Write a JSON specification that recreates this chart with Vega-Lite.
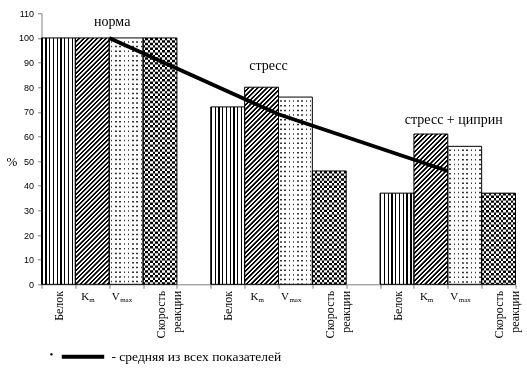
{
  "$schema": "https://vega.github.io/schema/vega-lite/v6.json",
  "autosize": {"type": "none"},
  "padding": {"left": 41.5, "top": 13.3, "right": 11.5, "bottom": 97.7},
  "width": 474,
  "height": 271,
  "background": "white",
  "config": {"view": {"stroke": null}},
  "data": {"values": [
    {"cat": "b1", "type": "b", "group": "норма", "value": 100},
    {"cat": "k1", "type": "k", "group": "норма", "value": 100},
    {"cat": "v1", "type": "v", "group": "норма", "value": 100},
    {"cat": "s1", "type": "s", "group": "норма", "value": 100},
    {"cat": "b2", "type": "b", "group": "стресс", "value": 72},
    {"cat": "k2", "type": "k", "group": "стресс", "value": 80},
    {"cat": "v2", "type": "v", "group": "стресс", "value": 76},
    {"cat": "s2", "type": "s", "group": "стресс", "value": 46},
    {"cat": "b3", "type": "b", "group": "стресс + циприн", "value": 37},
    {"cat": "k3", "type": "k", "group": "стресс + циприн", "value": 61},
    {"cat": "v3", "type": "v", "group": "стресс + циприн", "value": 56},
    {"cat": "s3", "type": "s", "group": "стресс + циприн", "value": 37}
  ]},
  "encoding": {
    "x": {"field": "cat", "type": "nominal", "title": null,
      "scale": {"domain": ["b1","k1","v1","s1","g1","b2","k2","v2","s2","g2","b3","k3","v3","s3"], "paddingInner": 0, "paddingOuter": 0},
      "axis": {"tickBand": "extent", "tickSize": 4, "labelAngle": -90, "labelPadding": 2,
        "labelFont": "Liberation Serif", "labelFontSize": 12, "labelLineHeight": 16, "labelColor": "#000",
        "domainColor": "#808080", "tickColor": "#808080", "grid": false,
        "labelExpr": "substring(datum.value,0,1)=='b' ? 'Белок' : (substring(datum.value,0,1)=='s' ? ['Скорость','реакции'] : '')"}},
    "y": {"field": "value", "type": "quantitative", "scale": {"domain": [0, 110], "nice": false},
      "axis": {"values": [0,10,20,30,40,50,60,70,80,90,100,110], "tickSize": 4, "labelPadding": 4,
        "labelFont": "Liberation Sans", "labelFontSize": 9, "labelColor": "#000",
        "domainColor": "#808080", "tickColor": "#808080", "grid": false,
        "title": "%", "titleAngle": 0, "titleX": -30, "titleY": 148, "titleFont": "Liberation Serif",
        "titleFontSize": 13, "titleFontWeight": "normal", "titleAlign": "center", "titleBaseline": "middle", "titleColor": "#000"}}
  },
  "layer": [
    {"transform": [{"filter": "datum.type=='b'"}],
     "mark": {"type": "bar", "stroke": null, "fill": {"gradient": "linear", "x1": 0, "y1": 0, "x2": 1, "y2": 0, "stops": [
       {"offset":0,"color":"#000"},{"offset":0.04,"color":"#000"},{"offset":0.04,"color":"#fff"},{"offset":0.1111,"color":"#fff"},
       {"offset":0.1111,"color":"#000"},{"offset":0.1511,"color":"#000"},{"offset":0.1511,"color":"#fff"},{"offset":0.2222,"color":"#fff"},
       {"offset":0.2222,"color":"#000"},{"offset":0.2622,"color":"#000"},{"offset":0.2622,"color":"#fff"},{"offset":0.3333,"color":"#fff"},
       {"offset":0.3333,"color":"#000"},{"offset":0.3733,"color":"#000"},{"offset":0.3733,"color":"#fff"},{"offset":0.4444,"color":"#fff"},
       {"offset":0.4444,"color":"#000"},{"offset":0.4844,"color":"#000"},{"offset":0.4844,"color":"#fff"},{"offset":0.5556,"color":"#fff"},
       {"offset":0.5556,"color":"#000"},{"offset":0.5956,"color":"#000"},{"offset":0.5956,"color":"#fff"},{"offset":0.6667,"color":"#fff"},
       {"offset":0.6667,"color":"#000"},{"offset":0.7067,"color":"#000"},{"offset":0.7067,"color":"#fff"},{"offset":0.7778,"color":"#fff"},
       {"offset":0.7778,"color":"#000"},{"offset":0.8178,"color":"#000"},{"offset":0.8178,"color":"#fff"},{"offset":0.8889,"color":"#fff"},
       {"offset":0.8889,"color":"#000"},{"offset":0.9289,"color":"#000"},{"offset":0.9289,"color":"#fff"},{"offset":1,"color":"#fff"}
     ]}}},
    {"transform": [{"filter": "datum.cat=='k1'"}],
     "mark": {"type": "bar", "stroke": null, "fill": {"gradient": "linear", "x1": 0, "y1": 0, "x2": 0.15346, "y2": 1.11668, "stops": [
       {"offset":0,"color":"#000"},{"offset":0.008,"color":"#fff"},{"offset":0.016,"color":"#000"},{"offset":0.024,"color":"#fff"},
       {"offset":0.032,"color":"#000"},{"offset":0.04,"color":"#fff"},{"offset":0.048,"color":"#000"},{"offset":0.056,"color":"#fff"},
       {"offset":0.064,"color":"#000"},{"offset":0.072,"color":"#fff"},{"offset":0.08,"color":"#000"},{"offset":0.088,"color":"#fff"},
       {"offset":0.096,"color":"#000"},{"offset":0.104,"color":"#fff"},{"offset":0.112,"color":"#000"},{"offset":0.12,"color":"#fff"},
       {"offset":0.128,"color":"#000"},{"offset":0.136,"color":"#fff"},{"offset":0.144,"color":"#000"},{"offset":0.152,"color":"#fff"},
       {"offset":0.16,"color":"#000"},{"offset":0.168,"color":"#fff"},{"offset":0.176,"color":"#000"},{"offset":0.184,"color":"#fff"},
       {"offset":0.192,"color":"#000"},{"offset":0.2,"color":"#fff"},{"offset":0.208,"color":"#000"},{"offset":0.216,"color":"#fff"},
       {"offset":0.224,"color":"#000"},{"offset":0.232,"color":"#fff"},{"offset":0.24,"color":"#000"},{"offset":0.248,"color":"#fff"},
       {"offset":0.256,"color":"#000"},{"offset":0.264,"color":"#fff"},{"offset":0.272,"color":"#000"},{"offset":0.28,"color":"#fff"},
       {"offset":0.288,"color":"#000"},{"offset":0.296,"color":"#fff"},{"offset":0.304,"color":"#000"},{"offset":0.312,"color":"#fff"},
       {"offset":0.32,"color":"#000"},{"offset":0.328,"color":"#fff"},{"offset":0.336,"color":"#000"},{"offset":0.344,"color":"#fff"},
       {"offset":0.352,"color":"#000"},{"offset":0.36,"color":"#fff"},{"offset":0.368,"color":"#000"},{"offset":0.376,"color":"#fff"},
       {"offset":0.384,"color":"#000"},{"offset":0.392,"color":"#fff"},{"offset":0.4,"color":"#000"},{"offset":0.408,"color":"#fff"},
       {"offset":0.416,"color":"#000"},{"offset":0.424,"color":"#fff"},{"offset":0.432,"color":"#000"},{"offset":0.44,"color":"#fff"},
       {"offset":0.448,"color":"#000"},{"offset":0.456,"color":"#fff"},{"offset":0.464,"color":"#000"},{"offset":0.472,"color":"#fff"},
       {"offset":0.48,"color":"#000"},{"offset":0.488,"color":"#fff"},{"offset":0.496,"color":"#000"},{"offset":0.504,"color":"#fff"},
       {"offset":0.512,"color":"#000"},{"offset":0.52,"color":"#fff"},{"offset":0.528,"color":"#000"},{"offset":0.536,"color":"#fff"},
       {"offset":0.544,"color":"#000"},{"offset":0.552,"color":"#fff"},{"offset":0.56,"color":"#000"},{"offset":0.568,"color":"#fff"},
       {"offset":0.576,"color":"#000"},{"offset":0.584,"color":"#fff"},{"offset":0.592,"color":"#000"},{"offset":0.6,"color":"#fff"},
       {"offset":0.608,"color":"#000"},{"offset":0.616,"color":"#fff"},{"offset":0.624,"color":"#000"},{"offset":0.632,"color":"#fff"},
       {"offset":0.64,"color":"#000"},{"offset":0.648,"color":"#fff"},{"offset":0.656,"color":"#000"},{"offset":0.664,"color":"#fff"},
       {"offset":0.672,"color":"#000"},{"offset":0.68,"color":"#fff"},{"offset":0.688,"color":"#000"},{"offset":0.696,"color":"#fff"},
       {"offset":0.704,"color":"#000"},{"offset":0.712,"color":"#fff"},{"offset":0.72,"color":"#000"},{"offset":0.728,"color":"#fff"},
       {"offset":0.736,"color":"#000"},{"offset":0.744,"color":"#fff"},{"offset":0.752,"color":"#000"},{"offset":0.76,"color":"#fff"},
       {"offset":0.768,"color":"#000"},{"offset":0.776,"color":"#fff"},{"offset":0.784,"color":"#000"},{"offset":0.792,"color":"#fff"},
       {"offset":0.8,"color":"#000"},{"offset":0.808,"color":"#fff"},{"offset":0.816,"color":"#000"},{"offset":0.824,"color":"#fff"},
       {"offset":0.832,"color":"#000"},{"offset":0.84,"color":"#fff"},{"offset":0.848,"color":"#000"},{"offset":0.856,"color":"#fff"},
       {"offset":0.864,"color":"#000"},{"offset":0.872,"color":"#fff"},{"offset":0.88,"color":"#000"},{"offset":0.888,"color":"#fff"},
       {"offset":0.896,"color":"#000"},{"offset":0.904,"color":"#fff"},{"offset":0.912,"color":"#000"},{"offset":0.92,"color":"#fff"},
       {"offset":0.928,"color":"#000"},{"offset":0.936,"color":"#fff"},{"offset":0.944,"color":"#000"},{"offset":0.952,"color":"#fff"},
       {"offset":0.96,"color":"#000"},{"offset":0.968,"color":"#fff"},{"offset":0.976,"color":"#000"},{"offset":0.984,"color":"#fff"},
       {"offset":0.992,"color":"#000"},{"offset":1,"color":"#fff"}
     ]}}},
    {"transform": [{"filter": "datum.cat=='k2'"}],
     "mark": {"type": "bar", "stroke": null, "fill": {"gradient": "linear", "x1": 0, "y1": 0, "x2": 0.19557, "y2": 1.13846, "stops": [
       {"offset":0,"color":"#000"},{"offset":0.01,"color":"#fff"},{"offset":0.02,"color":"#000"},{"offset":0.03,"color":"#fff"},
       {"offset":0.04,"color":"#000"},{"offset":0.05,"color":"#fff"},{"offset":0.06,"color":"#000"},{"offset":0.07,"color":"#fff"},
       {"offset":0.08,"color":"#000"},{"offset":0.09,"color":"#fff"},{"offset":0.1,"color":"#000"},{"offset":0.11,"color":"#fff"},
       {"offset":0.12,"color":"#000"},{"offset":0.13,"color":"#fff"},{"offset":0.14,"color":"#000"},{"offset":0.15,"color":"#fff"},
       {"offset":0.16,"color":"#000"},{"offset":0.17,"color":"#fff"},{"offset":0.18,"color":"#000"},{"offset":0.19,"color":"#fff"},
       {"offset":0.2,"color":"#000"},{"offset":0.21,"color":"#fff"},{"offset":0.22,"color":"#000"},{"offset":0.23,"color":"#fff"},
       {"offset":0.24,"color":"#000"},{"offset":0.25,"color":"#fff"},{"offset":0.26,"color":"#000"},{"offset":0.27,"color":"#fff"},
       {"offset":0.28,"color":"#000"},{"offset":0.29,"color":"#fff"},{"offset":0.3,"color":"#000"},{"offset":0.31,"color":"#fff"},
       {"offset":0.32,"color":"#000"},{"offset":0.33,"color":"#fff"},{"offset":0.34,"color":"#000"},{"offset":0.35,"color":"#fff"},
       {"offset":0.36,"color":"#000"},{"offset":0.37,"color":"#fff"},{"offset":0.38,"color":"#000"},{"offset":0.39,"color":"#fff"},
       {"offset":0.4,"color":"#000"},{"offset":0.41,"color":"#fff"},{"offset":0.42,"color":"#000"},{"offset":0.43,"color":"#fff"},
       {"offset":0.44,"color":"#000"},{"offset":0.45,"color":"#fff"},{"offset":0.46,"color":"#000"},{"offset":0.47,"color":"#fff"},
       {"offset":0.48,"color":"#000"},{"offset":0.49,"color":"#fff"},{"offset":0.5,"color":"#000"},{"offset":0.51,"color":"#fff"},
       {"offset":0.52,"color":"#000"},{"offset":0.53,"color":"#fff"},{"offset":0.54,"color":"#000"},{"offset":0.55,"color":"#fff"},
       {"offset":0.56,"color":"#000"},{"offset":0.57,"color":"#fff"},{"offset":0.58,"color":"#000"},{"offset":0.59,"color":"#fff"},
       {"offset":0.6,"color":"#000"},{"offset":0.61,"color":"#fff"},{"offset":0.62,"color":"#000"},{"offset":0.63,"color":"#fff"},
       {"offset":0.64,"color":"#000"},{"offset":0.65,"color":"#fff"},{"offset":0.66,"color":"#000"},{"offset":0.67,"color":"#fff"},
       {"offset":0.68,"color":"#000"},{"offset":0.69,"color":"#fff"},{"offset":0.7,"color":"#000"},{"offset":0.71,"color":"#fff"},
       {"offset":0.72,"color":"#000"},{"offset":0.73,"color":"#fff"},{"offset":0.74,"color":"#000"},{"offset":0.75,"color":"#fff"},
       {"offset":0.76,"color":"#000"},{"offset":0.77,"color":"#fff"},{"offset":0.78,"color":"#000"},{"offset":0.79,"color":"#fff"},
       {"offset":0.8,"color":"#000"},{"offset":0.81,"color":"#fff"},{"offset":0.82,"color":"#000"},{"offset":0.83,"color":"#fff"},
       {"offset":0.84,"color":"#000"},{"offset":0.85,"color":"#fff"},{"offset":0.86,"color":"#000"},{"offset":0.87,"color":"#fff"},
       {"offset":0.88,"color":"#000"},{"offset":0.89,"color":"#fff"},{"offset":0.9,"color":"#000"},{"offset":0.91,"color":"#fff"},
       {"offset":0.92,"color":"#000"},{"offset":0.93,"color":"#fff"},{"offset":0.94,"color":"#000"},{"offset":0.95,"color":"#fff"},
       {"offset":0.96,"color":"#000"},{"offset":0.97,"color":"#fff"},{"offset":0.98,"color":"#000"},{"offset":0.99,"color":"#fff"},
       {"offset":1,"color":"#000"}
     ]}}},
    {"transform": [{"filter": "datum.cat=='k3'"}],
     "mark": {"type": "bar", "stroke": null, "fill": {"gradient": "linear", "x1": 0, "y1": 0, "x2": 0.26281, "y2": 1.16651, "stops": [
       {"offset":0,"color":"#000"},{"offset":0.0125,"color":"#fff"},{"offset":0.025,"color":"#000"},{"offset":0.0375,"color":"#fff"},
       {"offset":0.05,"color":"#000"},{"offset":0.0625,"color":"#fff"},{"offset":0.075,"color":"#000"},{"offset":0.0875,"color":"#fff"},
       {"offset":0.1,"color":"#000"},{"offset":0.1125,"color":"#fff"},{"offset":0.125,"color":"#000"},{"offset":0.1375,"color":"#fff"},
       {"offset":0.15,"color":"#000"},{"offset":0.1625,"color":"#fff"},{"offset":0.175,"color":"#000"},{"offset":0.1875,"color":"#fff"},
       {"offset":0.2,"color":"#000"},{"offset":0.2125,"color":"#fff"},{"offset":0.225,"color":"#000"},{"offset":0.2375,"color":"#fff"},
       {"offset":0.25,"color":"#000"},{"offset":0.2625,"color":"#fff"},{"offset":0.275,"color":"#000"},{"offset":0.2875,"color":"#fff"},
       {"offset":0.3,"color":"#000"},{"offset":0.3125,"color":"#fff"},{"offset":0.325,"color":"#000"},{"offset":0.3375,"color":"#fff"},
       {"offset":0.35,"color":"#000"},{"offset":0.3625,"color":"#fff"},{"offset":0.375,"color":"#000"},{"offset":0.3875,"color":"#fff"},
       {"offset":0.4,"color":"#000"},{"offset":0.4125,"color":"#fff"},{"offset":0.425,"color":"#000"},{"offset":0.4375,"color":"#fff"},
       {"offset":0.45,"color":"#000"},{"offset":0.4625,"color":"#fff"},{"offset":0.475,"color":"#000"},{"offset":0.4875,"color":"#fff"},
       {"offset":0.5,"color":"#000"},{"offset":0.5125,"color":"#fff"},{"offset":0.525,"color":"#000"},{"offset":0.5375,"color":"#fff"},
       {"offset":0.55,"color":"#000"},{"offset":0.5625,"color":"#fff"},{"offset":0.575,"color":"#000"},{"offset":0.5875,"color":"#fff"},
       {"offset":0.6,"color":"#000"},{"offset":0.6125,"color":"#fff"},{"offset":0.625,"color":"#000"},{"offset":0.6375,"color":"#fff"},
       {"offset":0.65,"color":"#000"},{"offset":0.6625,"color":"#fff"},{"offset":0.675,"color":"#000"},{"offset":0.6875,"color":"#fff"},
       {"offset":0.7,"color":"#000"},{"offset":0.7125,"color":"#fff"},{"offset":0.725,"color":"#000"},{"offset":0.7375,"color":"#fff"},
       {"offset":0.75,"color":"#000"},{"offset":0.7625,"color":"#fff"},{"offset":0.775,"color":"#000"},{"offset":0.7875,"color":"#fff"},
       {"offset":0.8,"color":"#000"},{"offset":0.8125,"color":"#fff"},{"offset":0.825,"color":"#000"},{"offset":0.8375,"color":"#fff"},
       {"offset":0.85,"color":"#000"},{"offset":0.8625,"color":"#fff"},{"offset":0.875,"color":"#000"},{"offset":0.8875,"color":"#fff"},
       {"offset":0.9,"color":"#000"},{"offset":0.9125,"color":"#fff"},{"offset":0.925,"color":"#000"},{"offset":0.9375,"color":"#fff"},
       {"offset":0.95,"color":"#000"},{"offset":0.9625,"color":"#fff"},{"offset":0.975,"color":"#000"},{"offset":0.9875,"color":"#fff"},
       {"offset":1,"color":"#000"}
     ]}}},
    {"transform": [{"filter": "datum.type=='k'"}],
     "mark": {"type": "bar", "stroke": null, "fill": "#a0a0a0", "blend": "color-burn"}},
    {"transform": [{"filter": "datum.type=='k'"}],
     "mark": {"type": "bar", "stroke": null, "fill": "#999999", "blend": "color-dodge"}},
    {"transform": [{"filter": "datum.type=='v'"}],
     "mark": {"type": "bar", "stroke": null, "fill": {"gradient": "linear", "x1": 0, "y1": 0, "x2": 1, "y2": 0, "stops": [
       {"offset":0,"color":"#fff"},{"offset":0.05,"color":"#fff"},{"offset":0.05,"color":"#333"},{"offset":0.095,"color":"#333"},
       {"offset":0.095,"color":"#fff"},{"offset":0.175,"color":"#fff"},{"offset":0.175,"color":"#333"},{"offset":0.22,"color":"#333"},
       {"offset":0.22,"color":"#fff"},{"offset":0.3,"color":"#fff"},{"offset":0.3,"color":"#333"},{"offset":0.345,"color":"#333"},
       {"offset":0.345,"color":"#fff"},{"offset":0.425,"color":"#fff"},{"offset":0.425,"color":"#333"},{"offset":0.47,"color":"#333"},
       {"offset":0.47,"color":"#fff"},{"offset":0.55,"color":"#fff"},{"offset":0.55,"color":"#333"},{"offset":0.595,"color":"#333"},
       {"offset":0.595,"color":"#fff"},{"offset":0.675,"color":"#fff"},{"offset":0.675,"color":"#333"},{"offset":0.72,"color":"#333"},
       {"offset":0.72,"color":"#fff"},{"offset":0.8,"color":"#fff"},{"offset":0.8,"color":"#333"},{"offset":0.845,"color":"#333"},
       {"offset":0.845,"color":"#fff"},{"offset":0.925,"color":"#fff"},{"offset":0.925,"color":"#333"},{"offset":0.97,"color":"#333"},
       {"offset":0.97,"color":"#fff"},{"offset":1,"color":"#fff"}
     ]}}},
    {"transform": [{"filter": "datum.type=='v'"}],
     "mark": {"type": "rule", "stroke": "#fff", "strokeWidth": 33.8, "strokeCap": "butt", "strokeDash": [3.2, 1.5]},
     "encoding": {"y2": {"datum": 0}}},
    {"transform": [{"filter": "datum.type=='s'"}],
     "mark": {"type": "bar", "stroke": null, "fill": {"gradient": "linear", "x1": 0, "y1": 0, "x2": 1, "y2": 0, "stops": [
       {"offset":0,"color":"#000"},{"offset":0.0714,"color":"#000"},{"offset":0.0714,"color":"#fff"},{"offset":0.1429,"color":"#fff"},
       {"offset":0.1429,"color":"#000"},{"offset":0.2143,"color":"#000"},{"offset":0.2143,"color":"#fff"},{"offset":0.2857,"color":"#fff"},
       {"offset":0.2857,"color":"#000"},{"offset":0.3571,"color":"#000"},{"offset":0.3571,"color":"#fff"},{"offset":0.4286,"color":"#fff"},
       {"offset":0.4286,"color":"#000"},{"offset":0.5,"color":"#000"},{"offset":0.5,"color":"#fff"},{"offset":0.5714,"color":"#fff"},
       {"offset":0.5714,"color":"#000"},{"offset":0.6429,"color":"#000"},{"offset":0.6429,"color":"#fff"},{"offset":0.7143,"color":"#fff"},
       {"offset":0.7143,"color":"#000"},{"offset":0.7857,"color":"#000"},{"offset":0.7857,"color":"#fff"},{"offset":0.8571,"color":"#fff"},
       {"offset":0.8571,"color":"#000"},{"offset":0.9286,"color":"#000"},{"offset":0.9286,"color":"#fff"},{"offset":1,"color":"#fff"}
     ]}}},
    {"transform": [{"filter": "datum.type=='s'"}],
     "mark": {"type": "rule", "stroke": "#fff", "strokeWidth": 33.8, "strokeCap": "butt", "strokeDash": [2.42, 2.42], "blend": "difference"},
     "encoding": {"y2": {"datum": 0}}},
    {"mark": {"type": "bar", "filled": false, "stroke": "#000", "strokeWidth": 1}},
    {"data": {"values": [
      {"cat": "k1", "value": 100},
      {"cat": "k2", "value": 69},
      {"cat": "k3", "value": 46}
     ]},
     "mark": {"type": "line", "strokeWidth": 3.8, "strokeCap": "butt"},
     "encoding": {
       "x": {"field": "cat", "type": "nominal", "bandPosition": 1, "title": null},
       "stroke": {"datum": "- средняя из всех показателей", "type": "nominal", "scale": {"range": ["#000"]},
         "legend": {"orient": "none", "legendX": 8, "legendY": 320, "title": "•", "titleOrient": "left",
           "titleAnchor": "middle", "titleBaseline": "top",
           "titleFont": "Liberation Serif", "titleFontSize": 11, "titleFontWeight": "normal", "titleColor": "#000", "titlePadding": 6,
           "symbolType": "stroke", "symbolStrokeWidth": 4, "symbolSize": 1800, "labelFont": "Liberation Serif", "labelFontSize": 13.5,
           "labelOffset": 5, "labelColor": "#000", "labelLimit": 300, "padding": 0}}}},
    {"data": {"values": [{"cat": "k1", "value": 104.8, "label": "норма"}]},
     "mark": {"type": "text", "font": "Liberation Serif", "fontSize": 14, "align": "center", "baseline": "alphabetic", "dx": 3, "color": "#000"},
     "encoding": {"x": {"field": "cat", "type": "nominal", "bandPosition": 1, "title": null}, "text": {"field": "label"}}},
    {"data": {"values": [{"cat": "k2", "value": 87, "label": "стресс"}]},
     "mark": {"type": "text", "font": "Liberation Serif", "fontSize": 14, "align": "center", "baseline": "alphabetic", "dx": -10, "color": "#000"},
     "encoding": {"x": {"field": "cat", "type": "nominal", "bandPosition": 1, "title": null}, "text": {"field": "label"}}},
    {"data": {"values": [{"cat": "k3", "value": 65, "label": "стресс + циприн"}]},
     "mark": {"type": "text", "font": "Liberation Serif", "fontSize": 14, "align": "center", "baseline": "alphabetic", "dx": 6, "color": "#000"},
     "encoding": {"x": {"field": "cat", "type": "nominal", "bandPosition": 1, "title": null}, "text": {"field": "label"}}},
    {"data": {"values": [{"cat": "k1", "value": 0}, {"cat": "k2", "value": 0}, {"cat": "k3", "value": 0}]},
     "mark": {"type": "text", "font": "Liberation Serif", "fontSize": 11, "align": "right", "baseline": "alphabetic", "dx": -3, "dy": 15.7, "color": "#000", "text": "K"}},
    {"data": {"values": [{"cat": "k1", "value": 0}, {"cat": "k2", "value": 0}, {"cat": "k3", "value": 0}]},
     "mark": {"type": "text", "font": "Liberation Serif", "fontSize": 7, "align": "left", "baseline": "alphabetic", "dx": -3, "dy": 18, "color": "#000", "text": "m"}},
    {"data": {"values": [{"cat": "v1", "value": 0}, {"cat": "v2", "value": 0}, {"cat": "v3", "value": 0}]},
     "mark": {"type": "text", "font": "Liberation Serif", "fontSize": 11, "align": "right", "baseline": "alphabetic", "dx": -6.5, "dy": 15.7, "color": "#000", "text": "V"}},
    {"data": {"values": [{"cat": "v1", "value": 0}, {"cat": "v2", "value": 0}, {"cat": "v3", "value": 0}]},
     "mark": {"type": "text", "font": "Liberation Serif", "fontSize": 7, "align": "left", "baseline": "alphabetic", "dx": -6, "dy": 18, "color": "#000", "text": "max"}}
  ]
}
